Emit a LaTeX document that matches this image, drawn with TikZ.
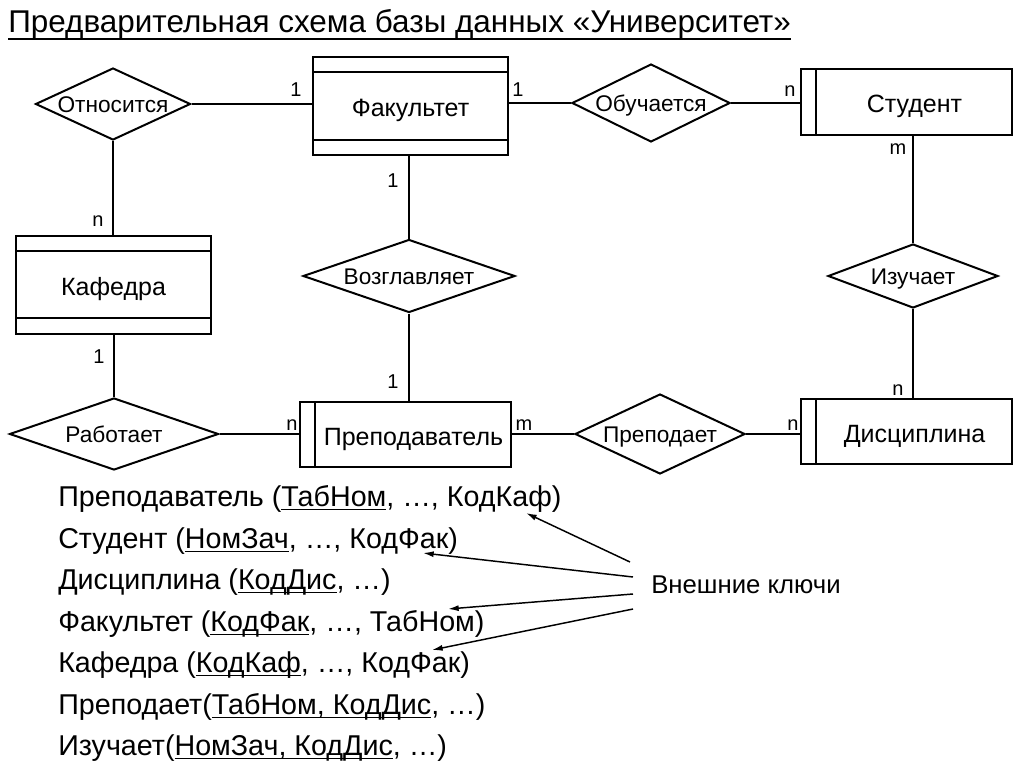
\documentclass[tikz,border=0pt]{standalone}
\usepackage{fontspec}
\setmainfont{Liberation Sans}
\usetikzlibrary{shapes.geometric,arrows.meta}
\newsavebox\ulbox
\newcommand\keyu[2][-3.2pt]{\sbox\ulbox{#2}\rlap{\rule[#1]{\wd\ulbox}{1.1pt}}\usebox\ulbox}
\begin{document}
\begin{tikzpicture}[x=0.75pt,y=-0.75pt]
    \tikzset{entity/.style = {draw,line width=1.5pt,inner sep=0pt,text height=16.5pt,text depth=0pt,font=\fontsize{18.75}{20}\selectfont}}
    \tikzset{bands/.style = {entity,minimum width=146.25pt,minimum height=73.5pt,
        path picture={\draw[line width=1.5pt] ([yshift=-11.5pt]path picture bounding box.north west) -- ([yshift=-11.5pt]path picture bounding box.north east)
            ([yshift=11.5pt]path picture bounding box.south west) -- ([yshift=11.5pt]path picture bounding box.south east);}}}
    \tikzset{strip/.style = {entity,minimum width=158.25pt,minimum height=48.75pt,execute at begin node=\hspace*{12pt},
        path picture={\draw[line width=1.5pt] ([xshift=11.5pt]path picture bounding box.north west) -- ([xshift=11.5pt]path picture bounding box.south west);}}}
    \tikzset{relation/.style = {diamond,draw,line width=1.5pt,inner sep=0pt,text height=13pt,text depth=0pt,font=\fontsize{17}{18}\selectfont}}
    \tikzset{card/.style = {anchor=base,inner sep=0pt,font=\fontsize{15}{16}\selectfont}}
    \tikzset{row/.style = {anchor=base west,inner sep=0pt,font=\fontsize{21.5}{24}\selectfont}}
    \tikzset{link/.style = {line width=1.5pt}}
    \tikzset{fk/.style = {-{Latex[length=8pt,width=4.5pt]},line width=1.1pt}}
    \useasboundingbox (0,0) rectangle (1024,767);
    \node[anchor=base west,inner sep=0pt,font=\fontsize{23.6}{26}\selectfont] (title) at (8,33)
        {\keyu[-5pt]{Предварительная схема базы данных «Университет»}};
    % entities
    \node[bands] (fak) at (410.5,106) {Факультет};
    \node[bands] (kaf) at (113.5,284.5) {Кафедра};
    \node[strip] (stud) at (906.5,102) {Студент};
    \node[strip] (prep) at (405.5,434) {Преподаватель};
    \node[strip] (disc) at (906.5,431.5) {Дисциплина};
    % relations
    \node[relation,minimum width=116.25pt,minimum height=54pt,aspect=2.15] (otn) at (113,104) {Относится};
    \node[relation,minimum width=118.5pt,minimum height=58.5pt,aspect=2.03] (obuch) at (651,103) {Обучается};
    \node[relation,minimum width=159pt,minimum height=54.75pt,aspect=2.9] (vozgl) at (409,276) {Возглавляет};
    \node[relation,minimum width=127.5pt,minimum height=48pt,aspect=2.66] (izuch) at (913,276) {Изучает};
    \node[relation,minimum width=156.75pt,minimum height=54pt,aspect=2.9] (rab) at (114,434) {Работает};
    \node[relation,minimum width=127.5pt,minimum height=60pt,aspect=2.125] (prepod) at (660,434) {Преподает};
    % connectors
    \draw[link] (otn.east) -- (otn.east -| fak.west);
    \draw[link] (fak.east |- obuch.west) -- (obuch.west);
    \draw[link] (obuch.east) -- (obuch.east -| stud.west);
    \draw[link] (otn.south) -- (otn.south |- kaf.north);
    \draw[link] (rab.north |- kaf.south) -- (rab.north);
    \draw[link] (rab.east) -- (rab.east -| prep.west);
    \draw[link] (vozgl.north |- fak.south) -- (vozgl.north);
    \draw[link] (vozgl.south) -- (vozgl.south |- prep.north);
    \draw[link] (prep.east) -- (prepod.west);
    \draw[link] (prepod.east) -- (prepod.east -| disc.west);
    \draw[link] (izuch.north |- stud.south) -- (izuch.north);
    \draw[link] (izuch.south) -- (izuch.south |- disc.north);
    % cardinalities
    \node[card] (c1) at (296,96) {1};
    \node[card] (c2) at (518,96) {1};
    \node[card] (c3) at (790,96) {n};
    \node[card] (c4) at (98,226) {n};
    \node[card] (c5) at (393,187) {1};
    \node[card] (c6) at (898,154) {m};
    \node[card] (c7) at (99,363) {1};
    \node[card] (c8) at (393,388) {1};
    \node[card] (c9) at (898,395) {n};
    \node[card] (c10) at (292,430) {n};
    \node[card] (c11) at (524,430) {m};
    \node[card] (c12) at (793,430) {n};
    % tables
    \node[row] (r1) at (58,506) {Преподаватель (\keyu{ТабНом}, …, КодКаф)};
    \node[row] (r2) at (58,548) {Студент (\keyu{НомЗач}, …, КодФак)};
    \node[row] (r3) at (58,589) {Дисциплина (\keyu{КодДис}, …)};
    \node[row] (r4) at (58,631) {Факультет (\keyu{КодФак}, …, ТабНом)};
    \node[row] (r5) at (58,672) {Кафедра (\keyu{КодКаф}, …, КодФак)};
    \node[row] (r6) at (58,714) {Преподает(\keyu{ТабНом, КодДис}, …)};
    \node[row] (r7) at (58,755) {Изучает(\keyu{НомЗач, КодДис}, …)};
    \node[anchor=base west,inner sep=0pt,font=\fontsize{19.3}{22}\selectfont] (fkeys) at (651,593) {Внешние ключи};
    % foreign key arrows
    \coordinate (k1) at (630,562);
    \coordinate (k2) at (633,577);
    \coordinate (k3) at (633,594);
    \coordinate (k4) at (633,609);
    \coordinate (t1) at (526,513);
    \coordinate (t2) at (423,553);
    \coordinate (t3) at (448,609);
    \coordinate (t4) at (432,650);
    \draw[fk] (k1) -- (t1);
    \draw[fk] (k2) -- (t2);
    \draw[fk] (k3) -- (t3);
    \draw[fk] (k4) -- (t4);
\end{tikzpicture}
\end{document}
